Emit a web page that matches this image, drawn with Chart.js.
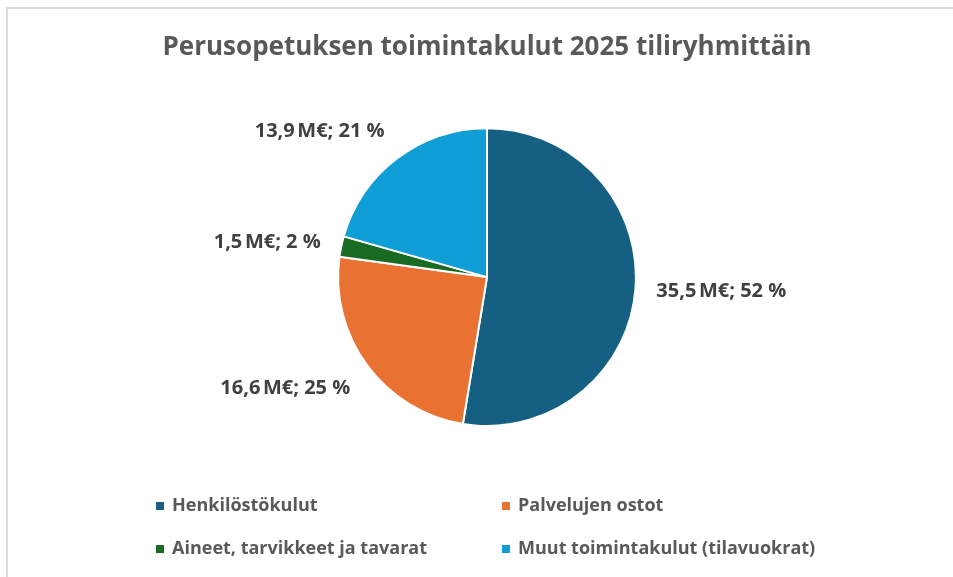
<!DOCTYPE html>
<html>
<head>
<meta charset="utf-8">
<script src="https://cdn.jsdelivr.net/npm/chart.js@4.4.1/dist/chart.umd.min.js"></script>
<style>
  html, body { margin: 0; padding: 0; background: #ffffff; }
  #wrap { position: relative; width: 953px; height: 577px; overflow: hidden; }
  #frame { position: absolute; left: 6px; top: 7px; width: 980px; height: 600px; border: 2px solid #d9d9d9; box-sizing: border-box; }
  canvas { position: absolute; left: 0; top: 0; }
</style>
</head>
<body>
<div id="wrap">
  <div id="frame"></div>
  <canvas id="c" width="953" height="577"></canvas>
</div>
<script>
const titleText = "Perusopetuksen toimintakulut 2025 tiliryhmittäin";
const categories = ["Henkilöstökulut", "Palvelujen ostot", "Aineet, tarvikkeet ja tavarat", "Muut toimintakulut (tilavuokrat)"];
const valuesMEUR = [35.5, 16.6, 1.5, 13.9];
const percentLabels = ["52 %", "25 %", "2 %", "21 %"];
const colors = ["#156082", "#E97132", "#196B24", "#0F9ED5"];

const FONT = "'Open Sans', 'Noto Sans', sans-serif";

function fmtValue(v) { return v.toFixed(1).replace('.', ',') + "\u202FM€; "; }

const dataLabelPlugin = {
  id: 'outsideLabels',
  afterDatasetsDraw(chart) {
    const ctx = chart.ctx;
    const meta = chart.getDatasetMeta(0);
    ctx.save();
    ctx.font = "700 20px " + FONT;
    ctx.fillStyle = "#404040";
    meta.data.forEach((arc, i) => {
      const p = arc.getProps(['x', 'y', 'startAngle', 'endAngle', 'outerRadius'], true);
      const mid = (p.startAngle + p.endAngle) / 2;
      const dx = Math.cos(mid), dy = Math.sin(mid);
      const gap = 21;
      const px = p.x + (p.outerRadius + gap) * dx;
      const py = p.y + (p.outerRadius + gap) * dy;
      const txt = fmtValue(valuesMEUR[i]) + percentLabels[i];
      const w = ctx.measureText(txt).width;
      const h = 20;
      let x, y;
      if (dx > 0.3) x = px; else if (dx < -0.3) x = px - w; else x = px - w / 2;
      if (dy > 0.3) y = py + h / 2; else if (dy < -0.3) y = py - h / 2; else y = py;
      ctx.textAlign = 'left';
      ctx.textBaseline = 'middle';
      ctx.fillText(txt, x, y);
    });
    ctx.restore();
  }
};

const gridLegendPlugin = {
  id: 'gridLegend',
  afterDraw(chart) {
    const ctx = chart.ctx;
    const ds = chart.data.datasets[0];
    const colX = [156, 502];
    const rowY = [506, 549];
    ctx.save();
    ctx.font = "700 18px " + FONT;
    ctx.textBaseline = 'middle';
    ctx.textAlign = 'left';
    chart.data.labels.forEach((lab, i) => {
      const cx = colX[i % 2];
      const cy = rowY[Math.floor(i / 2)];
      ctx.fillStyle = ds.backgroundColor[i];
      ctx.fillRect(cx, cy - 4, 8, 8);
      ctx.fillStyle = "#595959";
      ctx.fillText(lab, cx + 16, cy);
    });
    ctx.restore();
  }
};

new Chart(document.getElementById('c'), {
  type: 'pie',
  data: {
    labels: categories,
    datasets: [{
      data: valuesMEUR,
      backgroundColor: colors,
      borderColor: '#ffffff',
      borderWidth: 2
    }]
  },
  options: {
    responsive: false,
    animation: false,
    devicePixelRatio: 1,
    layout: { padding: { top: 20, bottom: 150, left: 21, right: 0 } },
    plugins: {
      legend: { display: false },
      tooltip: { enabled: false },
      title: {
        display: true,
        text: titleText,
        color: '#595959',
        font: { family: FONT, size: 26, weight: '700', lineHeight: 1.2 },
        padding: { top: 12, bottom: 64 }
      }
    }
  },
  plugins: [dataLabelPlugin, gridLegendPlugin]
});
</script>
</body>
</html>
